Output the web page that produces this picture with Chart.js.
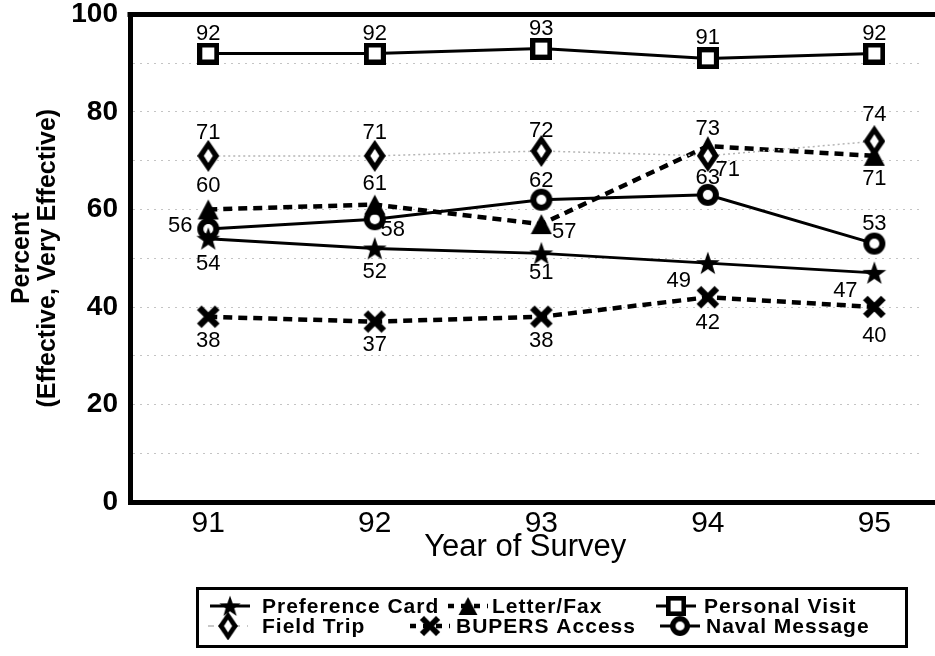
<!DOCTYPE html>
<html><head><meta charset="utf-8">
<script src="https://cdn.jsdelivr.net/npm/chart.js@4.4.1/dist/chart.umd.min.js"></script>
<style>html,body{margin:0;padding:0;background:#fff}#wrap{width:935px;height:656px;position:relative}</style>
</head><body><div id="wrap"><canvas id="c" width="935" height="656"></canvas></div>
<script>
// ---- data ----
const years = [91, 92, 93, 94, 95];
const preferenceCard = [54, 52, 51, 49, 47];
const letterFax = [60, 61, 57, 73, 71];
const personalVisit = [92, 92, 93, 91, 92];
const fieldTrip = [71, 71, 72, 71, 74];
const bupersAccess = [38, 37, 38, 42, 40];
const navalMessage = [56, 58, 62, 63, 53];
const yTickValues = [0, 20, 40, 60, 80, 100];
const seriesNames = ['Preference Card', 'Letter/Fax', 'Personal Visit', 'Field Trip', 'BUPERS Access', 'Naval Message'];
const xTitle = 'Year of Survey';
const yTitle = ['Percent', '(Effective, Very Effective)'];

// ---- marker images ----
function mk(w, h, draw) { const c = document.createElement('canvas'); c.width = w; c.height = h; draw(c.getContext('2d'), w, h); return c; }
const starImg = mk(26, 26, (g) => {
  g.beginPath();
  for (let i = 0; i < 10; i++) {
    const r = i % 2 === 0 ? 12.5 : 5;
    const a = -Math.PI / 2 + i * Math.PI / 5;
    const px = 13 + r * Math.cos(a), py = 14 + r * Math.sin(a);
    i === 0 ? g.moveTo(px, py) : g.lineTo(px, py);
  }
  g.closePath(); g.fillStyle = '#000'; g.fill();
});
const triImg = mk(22, 22, (g) => { g.beginPath(); g.moveTo(11, 1); g.lineTo(21.5, 21); g.lineTo(0.5, 21); g.closePath(); g.fillStyle = '#000'; g.fill(); });
const sqImg = mk(22, 22, (g) => { g.fillStyle = '#000'; g.fillRect(0, 0, 22, 22); g.fillStyle = '#fff'; g.fillRect(5, 5, 12, 12); });
const diaImg = mk(22, 32, (g) => {
  g.beginPath(); g.moveTo(11, 0); g.lineTo(22, 16); g.lineTo(11, 32); g.lineTo(0, 16); g.closePath(); g.fillStyle = '#000'; g.fill();
  g.beginPath(); g.moveTo(11, 9); g.lineTo(15.5, 16); g.lineTo(11, 23); g.lineTo(6.5, 16); g.closePath(); g.fillStyle = '#fff'; g.fill();
});
const xImg = mk(24, 24, (g) => {
  g.strokeStyle = '#000'; g.lineWidth = 6.5; g.lineCap = 'butt';
  g.beginPath(); g.moveTo(3, 3); g.lineTo(21, 21); g.moveTo(21, 3); g.lineTo(3, 21); g.stroke();
});
const circImg = mk(24, 24, (g) => {
  g.fillStyle = '#000'; g.beginPath(); g.arc(12, 12, 11, 0, Math.PI * 2); g.fill();
  g.fillStyle = '#fff'; g.beginPath(); g.arc(12, 12, 5, 0, Math.PI * 2); g.fill();
});

const seriesValues = [preferenceCard, letterFax, personalVisit, fieldTrip, bupersAccess, navalMessage];
const seriesMarkers = [starImg, triImg, sqImg, diaImg, xImg, circImg];
const seriesStyle = [
  { color: '#000', width: 3, dash: [] },
  { color: '#000', width: 4.5, dash: [9, 6] },
  { color: '#000', width: 3, dash: [] },
  { color: '#b5b5b5', width: 1.5, dash: [2, 3] },
  { color: '#000', width: 4.5, dash: [9, 6] },
  { color: '#000', width: 3, dash: [] }
];
const seriesOrder = [1, 2, 3, 0, 4, 5];
// label offsets (dx, dy) relative to each point
const labelOffsets = [
  [[0, 25], [0, 23], [0, 20], [-29, 18], [-29, 18]],
  [[0, -24], [0, -21], [23, 8], [0, -17], [0, 23]],
  [[0, -20], [0, -20], [0, -20], [0, -20], [0, -20]],
  [[0, -23], [0, -23], [0, -20], [20, 14], [0, -26]],
  [[0, 24], [0, 23], [0, 24], [0, 26], [0, 29]],
  [[-28, -3], [18, 11], [0, -19], [0, -17], [0, -20]]
];
// legend layout (marker x, text x) per item, and row y
const legendMarkerX = [230, 468, 676, 228, 430, 680];
const legendTextX = [262, 492, 704, 262, 456, 706];
const legendRowY = [606, 626];

const datasets = seriesNames.map((name, i) => ({
  label: name,
  data: years.map((yr, j) => ({ x: yr, y: seriesValues[i][j] })),
  borderColor: seriesStyle[i].color,
  borderWidth: seriesStyle[i].width,
  borderDash: seriesStyle[i].dash,
  pointStyle: seriesMarkers[i],
  pointRadius: 10,
  pointHoverRadius: 10,
  fill: false,
  tension: 0,
  order: seriesOrder[i]
}));

const FONT = "'Liberation Sans', Arial, Helvetica, sans-serif";

const framePlugin = {
  id: 'frame',
  afterDraw(chart) {
    const { ctx, chartArea: a } = chart;
    ctx.save();
    ctx.strokeStyle = '#000'; ctx.lineWidth = 5;
    ctx.beginPath(); ctx.moveTo(a.left - 2.5, a.top); ctx.lineTo(chart.width, a.top); ctx.stroke();
    ctx.beginPath(); ctx.moveTo(a.right - 1, a.bottom + 0.5); ctx.lineTo(chart.width, a.bottom + 0.5); ctx.stroke();
    ctx.restore();
  }
};

const labelPlugin = {
  id: 'pointLabels',
  afterDatasetsDraw(chart) {
    const ctx = chart.ctx;
    ctx.save();
    ctx.font = '22px ' + FONT; ctx.fillStyle = '#000'; ctx.textAlign = 'center'; ctx.textBaseline = 'middle';
    chart.data.datasets.forEach((ds, i) => {
      const meta = chart.getDatasetMeta(i);
      meta.data.forEach((pt, j) => {
        const off = labelOffsets[i][j];
        ctx.fillText(String(ds.data[j].y), pt.x + off[0], pt.y + off[1]);
      });
    });
    ctx.restore();
  }
};

const legendPlugin = {
  id: 'customLegend',
  afterDraw(chart) {
    const ctx = chart.ctx;
    ctx.save();
    ctx.strokeStyle = '#000'; ctx.lineWidth = 3;
    ctx.strokeRect(197.5, 588.5, 709, 58);
    ctx.font = 'bold 21px ' + FONT;
    try { ctx.letterSpacing = '1px'; } catch (e) {}
    ctx.textBaseline = 'middle'; ctx.textAlign = 'left'; ctx.fillStyle = '#000';
    chart.data.datasets.forEach((ds, i) => {
      const row = Math.floor(i / 3);
      const cx = legendMarkerX[i], cy = legendRowY[row];
      ctx.save();
      ctx.strokeStyle = ds.borderColor; ctx.lineWidth = ds.borderWidth;
      ctx.setLineDash(ds.borderDash && ds.borderDash.length ? [6, 7] : []);
      ctx.beginPath(); ctx.moveTo(cx - 20, cy); ctx.lineTo(cx + 20, cy); ctx.stroke();
      ctx.restore();
      const img = ds.pointStyle;
      const sc = 0.9;
      ctx.drawImage(img, cx - img.width * sc / 2, cy - img.height * sc / 2, img.width * sc, img.height * sc);
      ctx.fillText(ds.label, legendTextX[i], cy + 1);
    });
    ctx.restore();
  }
};

new Chart(document.getElementById('c'), {
  type: 'line',
  data: { datasets },
  options: {
    responsive: false,
    animation: false,
    devicePixelRatio: 1,
    layout: { padding: { left: 3, right: 0, top: 12, bottom: 90 } },
    plugins: { legend: { display: false }, tooltip: { enabled: false } },
    scales: {
      x: {
        type: 'linear',
        min: 90.53,
        max: 95.277,
        afterBuildTicks: (s) => { s.ticks = years.map(v => ({ value: v })); },
        afterFit: (s) => { s.height = 64; s.paddingLeft = 0; s.paddingRight = 0; },
        grid: { display: false, drawTicks: false },
        border: { display: true, width: 5, color: '#000' },
        ticks: { color: '#000', font: { family: FONT, size: 30 }, padding: 4, autoSkip: false, maxRotation: 0, callback: (v) => String(v) },
        title: { display: true, text: xTitle, color: '#000', font: { family: FONT, size: 31 }, padding: { top: 4, bottom: 0 } }
      },
      y: {
        min: 0,
        max: 100,
        afterBuildTicks: (s) => {
          const t = [];
          for (let v = 0; v <= 100; v += 10) t.push({ value: v });
          s.ticks = t;
        },
        afterFit: (s) => { s.width = 127; s.paddingTop = 0; s.paddingBottom = 0; },
        grid: { display: true, color: '#c4c4c4', lineWidth: 1, drawTicks: false },
        border: { display: true, width: 5, color: '#000', dash: [2, 5] },
        ticks: { color: '#000', font: { family: FONT, size: 28, weight: 'bold' }, padding: 12, autoSkip: false,
          callback: (v) => yTickValues.includes(v) ? String(v) : '' },
        title: { display: true, text: yTitle, color: '#000', font: { family: FONT, size: 25, weight: 'bold', lineHeight: 1.04 }, padding: { top: 6, bottom: 0 } }
      }
    }
  },
  plugins: [framePlugin, labelPlugin, legendPlugin]
});
</script>
</body></html>
